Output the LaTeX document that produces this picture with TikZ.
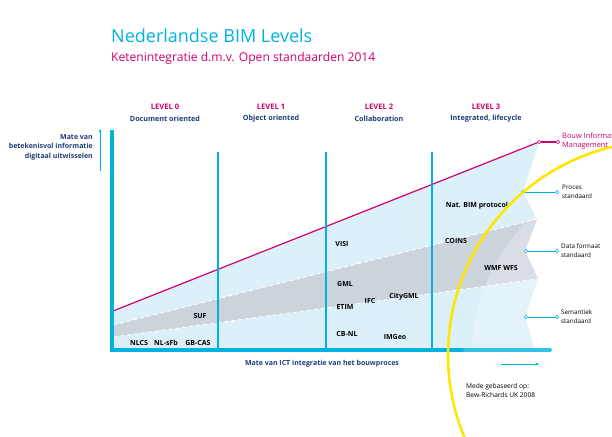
\documentclass[tikz,border=0pt]{standalone}
\usepackage{fontspec}
\setmainfont{Open Sans}
\usetikzlibrary{arrows.meta}
\definecolor{bimcyan}{RGB}{0,178,226}
\definecolor{bimmag}{RGB}{208,0,110}
\definecolor{bimnavy}{RGB}{30,58,120}
\definecolor{bimlight}{RGB}{220,240,249}
\definecolor{bimgray}{RGB}{203,212,218}
\definecolor{bimyellow}{RGB}{255,230,0}
\tikzset{
  lvl/.style={font=\fontsize{7.6}{8}\selectfont\bfseries, text=bimmag, inner sep=0pt},
  lvlsub/.style={font=\fontsize{7.2}{8}\selectfont\bfseries, text=bimnavy, inner sep=0pt},
  std/.style={font=\fontsize{7}{8}\selectfont\bfseries, text=black, inner sep=0pt},
  side/.style={font=\fontsize{6.3}{9}\selectfont, text=black, inner sep=0pt, align=left, anchor=west},
  axislbl/.style={font=\fontsize{7}{9.5}\selectfont\bfseries, text=bimnavy, inner sep=0pt},
  vline/.style={draw=bimcyan, line width=2.4pt},
  dot/.style={circle, draw=#1, fill=white, line width=0.6pt, minimum size=3.6pt, inner sep=0pt},
  edge/.style={draw=white, line width=0.9pt, dash pattern=on 4pt off 3pt},
}
\begin{document}
\begin{tikzpicture}[x=1pt,y=-1pt]
\useasboundingbox (0,0) rectangle (612,436);
\begin{scope}
\clip (0,0) rectangle (612,436);
% titles
\node[anchor=base west, inner sep=0pt, text=bimcyan, font=\fontsize{18}{20}\selectfont] (title) at (111,43) {Nederlandse BIM Levels};
\node[anchor=base west, inner sep=0pt, text=bimmag, font=\fontsize{12.1}{14}\selectfont] (subtitle) at (111,61) {Ketenintegratie d.m.v. Open standaarden 2014};
% level headings
\node[lvl] (l0) at (165,107) {LEVEL 0};
\node[lvlsub] (l0s) at (165,119) {Document oriented};
\node[lvl] (l1) at (271,107) {LEVEL 1};
\node[lvlsub] (l1s) at (271,119) {Object oriented};
\node[lvl] (l2) at (379,107) {LEVEL 2};
\node[lvlsub] (l2s) at (379,119) {Collaboration};
\node[lvl] (l3) at (486,107) {LEVEL 3};
\node[lvlsub] (l3s) at (486,119) {Integrated, lifecycle};
% areas
\fill[bimlight] (113,311) -- (539,142) -- (523,192) -- (537,219) -- (525,251) -- (538,279) -- (525,317) -- (535,350) -- (113,350) -- cycle;
\fill[bimgray] (113,325) -- (537,219) -- (525,251) -- (538,279) -- (113,337) -- cycle;
\begin{scope}
\clip (113,311) -- (539,142) -- (523,192) -- (537,219) -- (525,251) -- (538,279) -- (525,317) -- (535,350) -- (113,350) -- cycle;
\fill[white, opacity=0.25] (662,355) circle (190);
\end{scope}
\draw[edge] (113,325) -- (537,219);
\draw[edge] (113,337) -- (538,279);
% magenta BIM line
\coordinate (m0) at (113,311);
\node[dot=bimmag] (m1) at (539,142) {};
\node[dot=bimmag] (m2) at (558,142) {};
\draw[bimmag, line width=1.2pt] (m0) -- (m1);
\draw[bimmag, line width=1.2pt] (m1) -- (m2);
\node[anchor=west, inner sep=0pt, text=bimmag, align=left, font=\fontsize{7.4}{9}\selectfont] (bim) at (562,141.5) {Bouw Informatie\\Management};
% vertical lines
\draw[vline, line width=3.2pt] (112,130) -- (112,352);
\draw[vline] (218,152) -- (218,350);
\draw[vline] (326,152) -- (326,350);
\draw[vline] (432,152) -- (432,350);
% bottom bar
\draw[bimcyan, line width=3.8pt] (110,350) -- (465,350);
\draw[bimcyan!80, line width=3.8pt, line cap=round] (465,350) -- (550,350);
% standards labels
\node[std] (nlcs) at (139,343) {NLCS};
\node[std] (nlsfb) at (166,343) {NL-sFb};
\node[std] (gbcas) at (198,343) {GB-CAS};
\node[std] (suf) at (200,316) {SUF};
\node[std] (visi) at (342,244) {VISI};
\node[std] (gml) at (345,284) {GML};
\node[std] (etim) at (345,307) {ETIM};
\node[std] (ifc) at (370,301) {IFC};
\node[std] (citygml) at (404,297) {CityGML};
\node[std] (cbnl) at (347,334) {CB-NL};
\node[std] (imgeo) at (395,337) {IMGeo};
\node[std] (natbim) at (477,206) {Nat. BIM protocol};
\node[std] (coins) at (456,241) {COINS};
\node[std] (wmf) at (501,268) {WMF WFS};
% right side connectors
\node[dot=bimcyan] (p1) at (523,192) {};
\node[dot=bimcyan] (p2) at (557,192) {};
\node[dot=bimcyan] (d1) at (526,251) {};
\node[dot=bimcyan] (d2) at (557,251) {};
\node[dot=bimcyan] (s1) at (526,317) {};
\node[dot=bimcyan] (s2) at (557,317) {};
\draw[bimcyan, line width=1pt] (p1) -- (p2);
\draw[bimcyan, line width=1pt] (d1) -- (d2);
\draw[bimcyan, line width=1pt] (s1) -- (s2);
\node[side] (proces) at (562,192) {Proces\\standaard};
\node[side] (data) at (561,251) {Data formaat\\standaard};
\node[side] (sem) at (561,317) {Semantiek\\standaard};
% yellow arc
\draw[bimyellow, line width=2.6pt] (662,355) circle (214);
% axis labels
\node[axislbl, align=right, anchor=north east] (ylab) at (93,134) {Mate van\\betekenisvol informatie\\digitaal uitwisselen};
\coordinate (ya) at (100,171);
\coordinate (yb) at (100,129);
\draw[bimcyan, line width=0.8pt, -{Stealth[length=3.5pt,width=3pt]}] (ya) -- (yb);
\node[axislbl] (xlab) at (322,364) {Mate van ICT integratie van het bouwproces};
\coordinate (xa) at (501,364);
\coordinate (xb) at (539,364);
\draw[bimcyan, line width=0.8pt, -{Stealth[length=3.5pt,width=3pt]}] (xa) -- (xb);
\node[side, align=left, anchor=north west, font=\fontsize{6.6}{9.5}\selectfont] (mede) at (466,383) {Mede gebaseerd op:\\Bew-Richards UK 2008};
\end{scope}
\end{tikzpicture}
\end{document}
